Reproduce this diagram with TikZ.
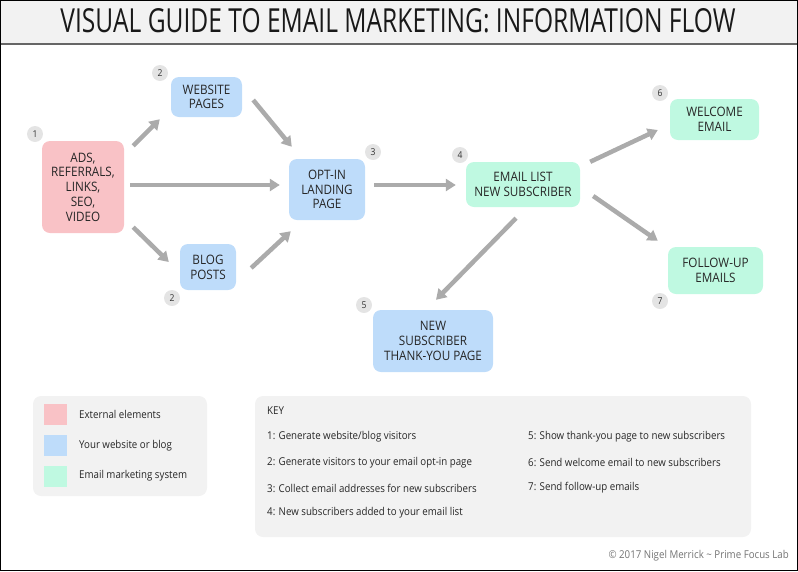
\documentclass[tikz,border=0pt]{standalone}
\usepackage{fontspec}
\setmainfont{Open Sans}[FakeStretch=0.9]
\usetikzlibrary{arrows.meta,calc}
\definecolor{pinkf}{HTML}{F9C2C6}
\definecolor{bluef}{HTML}{BEDCFA}
\definecolor{greenf}{HTML}{BFF9E1}
\definecolor{arrowc}{HTML}{ABABAB}
\definecolor{panel}{HTML}{F2F2F2}
\definecolor{badgef}{HTML}{E4E4E4}
\tikzset{
  box/.style={rounded corners=8pt, inner sep=0pt, align=center, text=black!85,
    font=\fontsize{13}{14.7}\selectfont},
  badge/.style={circle, fill=badgef, minimum size=16pt, inner sep=0pt,
    font=\fontsize{9.5}{10}\selectfont, text=black!80},
  flow/.style={draw=arrowc, line width=4.5pt, -{Triangle[length=10pt,width=12pt]}},
  keytxt/.style={anchor=west, inner sep=0pt, font=\fontsize{10.8}{12}\selectfont, text=black!85},
  swatch/.style={minimum width=23pt, minimum height=21pt, inner sep=0pt}
}
\begin{document}
\begin{tikzpicture}[x=1pt,y=-1pt]
\useasboundingbox (0,0) rectangle (798,571);
% frame and title band
\fill[panel] (0,0) rectangle (798,44);
\draw[gray!80!black, line width=1.5pt] (0,44) -- (798,44);
\draw[black, line width=1pt] (0.5,0.5) rectangle (797.5,570.5);
\node[inner sep=0pt, text=black!90] (title) at (398,21)
  {\resizebox{675pt}{24pt}{\fontspec{Open Sans}VISUAL GUIDE TO EMAIL MARKETING: INFORMATION FLOW}};

% nodes
\node[box, fill=pinkf, minimum width=82pt, minimum height=92pt] (ads) at (83,187)
  {ADS,\\REFERRALS,\\LINKS,\\SEO,\\VIDEO};
\node[box, fill=bluef, minimum width=71pt, minimum height=40pt] (web) at (206.5,97)
  {WEBSITE\\PAGES};
\node[box, fill=bluef, minimum width=56pt, minimum height=46pt] (blog) at (208,267)
  {BLOG\\POSTS};
\node[box, fill=bluef, minimum width=76pt, minimum height=61pt] (optin) at (327,189.5)
  {OPT-IN\\LANDING\\PAGE};
\node[box, fill=greenf, minimum width=114pt, minimum height=45pt] (elist) at (523,184.5)
  {EMAIL LIST\\NEW SUBSCRIBER};
\node[box, fill=bluef, minimum width=120pt, minimum height=62pt] (thank) at (433,341)
  {NEW\\SUBSCRIBER\\THANK-YOU PAGE};
\node[box, fill=greenf, minimum width=89pt, minimum height=41pt] (welcome) at (714.5,119.5)
  {WELCOME\\EMAIL};
\node[box, fill=greenf, minimum width=95pt, minimum height=47pt] (follow) at (715.5,270.5)
  {FOLLOW-UP\\EMAILS};

% badges
\node[badge] (b1) at (35,134) {1};
\node[badge] (b2a) at (160,73) {2};
\node[badge] (b2b) at (172,298) {2};
\node[badge] (b3) at (373,152) {3};
\node[badge] (b4) at (460,155) {4};
\node[badge] (b5) at (364,305) {5};
\node[badge] (b6) at (660,93) {6};
\node[badge] (b7) at (660,301) {7};

% connectors
\draw[flow] ($(ads.north east)+(9,5)$) -- ($(web.south west)+(-11,2)$);
\draw[flow] ($(ads.east)+(6,-2)$) -- ($(optin.west)+(-9,-4.5)$);
\draw[flow] ($(ads.south east)+(9,-6)$) -- ($(blog.west)+(-11,-5)$);
\draw[flow] ($(web.east)+(11,3)$) -- ($(optin.north west)+(3,-12)$);
\draw[flow] ($(blog.east)+(15,1)$) -- ($(optin.south west)+(2,11)$);
\draw[flow] ($(optin.east)+(9,-4.5)$) -- ($(elist.west)+(-10,0.5)$);
\draw[flow] ($(elist.south)+(-7,11)$) -- ($(thank.north)+(3,-10)$);
\draw[flow] ($(elist.north east)+(10,0)$) -- ($(welcome.west)+(-12,10.5)$);
\draw[flow] ($(elist.east)+(13,11.5)$) -- ($(follow.north west)+(-10,-6)$);

% legend
\node[fill=panel, rounded corners=8pt, minimum width=174pt, minimum height=100pt, inner sep=0pt] (legend) at (120,446) {};
\node[swatch, fill=pinkf] (sw1) at (55.5,414.5) {};
\node[swatch, fill=bluef] (sw2) at (55.5,445.5) {};
\node[swatch, fill=greenf] (sw3) at (55.5,476) {};
\node[keytxt] (l1) at (79,414.5) {External elements};
\node[keytxt] (l2) at (79,445.5) {Your website or blog};
\node[keytxt] (l3) at (79,476) {Email marketing system};

% key
\node[fill=panel, rounded corners=8pt, minimum width=496pt, minimum height=141pt, inner sep=0pt] (keybox) at (503,466.5) {};
\node[keytxt] (kh) at (267,411) {KEY};
\node[keytxt] (k1) at (267,437) {1: Generate website/blog visitors};
\node[keytxt] (k2) at (267,462.5) {2: Generate visitors to your email opt-in page};
\node[keytxt] (k3) at (267,488) {3: Collect email addresses for new subscribers};
\node[keytxt] (k4) at (267,513) {4: New subscribers added to your email list};
\node[keytxt] (k5) at (528,437) {5: Show thank-you page to new subscribers};
\node[keytxt] (k6) at (528,462.5) {6: Send welcome email to new subscribers};
\node[keytxt] (k7) at (528,488) {7: Send follow-up emails};

% copyright
\node[anchor=east, inner sep=0pt, text=black!55, font=\fontsize{10.8}{12}\selectfont] (copy) at (789,556)
  {© 2017 Nigel Merrick \textasciitilde{} Prime Focus Lab};
\end{tikzpicture}
\end{document}
